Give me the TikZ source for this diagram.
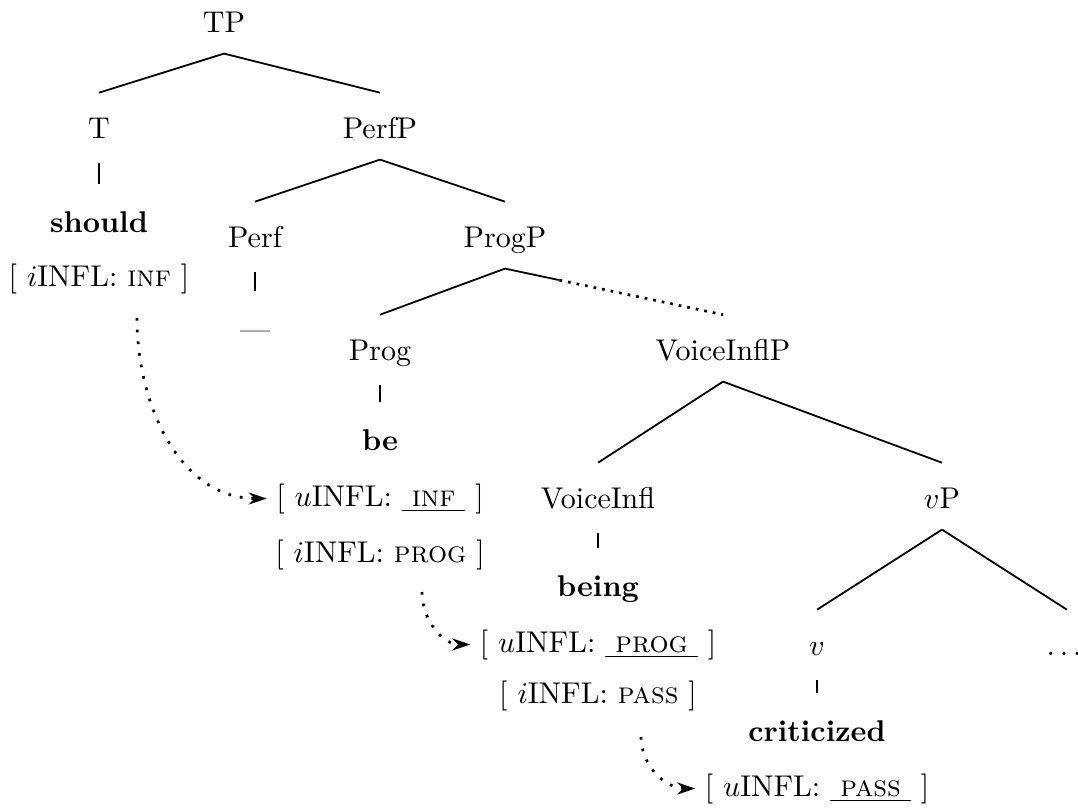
\documentclass[tikz,border=0pt]{standalone}
\usepackage{amsmath}
\usepackage{tikz}
\usetikzlibrary{arrows.meta}

\newcommand{\ifeat}[1]{[~$i$INFL:~\textsc{#1}~]}
\newcommand{\ufeat}[1]{[~$u$INFL:~\underline{~\textsc{#1}~}~]}

\begin{document}
\begin{tikzpicture}[x=0.3333pt, y=-0.3333pt]
	\tikzstyle{cat} = [anchor=base, inner xsep=2pt, inner ysep=5pt, text height=9.9pt, text depth=2pt];
	\tikzstyle{word} = [cat, font={\bfseries}];
	\tikzstyle{feat} = [anchor=base, inner sep=3pt];
	\tikzstyle{branch} = [semithick];
	\tikzstyle{check} = [->, >={Stealth[length=6pt, width=4pt]}, line width=0.9pt, dash pattern=on 0.9pt off 3pt, out=-90, in=180];

	\useasboundingbox (0,0) rectangle (1078,809);

	\node[cat] (TP) at (224,32) {TP};
	\node[cat] (T) at (99,138) {T};
	\node[cat] (PerfP) at (380,138) {PerfP};
	\node[word] (should) at (99,232) {should};
	\node[feat] (f1) at (99,286) {\ifeat{inf}};
	\node[cat] (Perf) at (255,247) {Perf};
	\node[cat] (ProgP) at (505,247) {ProgP};
	\node[cat] (gap) at (255,339) {---};
	\node[cat] (Prog) at (380,360) {Prog};
	\node[cat] (VoiceInflP) at (723,360) {VoiceInflP};
	\node[word] (be) at (380,450) {be};
	\node[feat] (u1) at (380,506) {\ufeat{inf}};
	\node[feat] (f2) at (380,562) {\ifeat{prog}};
	\node[cat] (VoiceInfl) at (598,508) {VoiceInfl};
	\node[cat] (vP) at (942,508) {$v$P};
	\node[word] (being) at (598,596) {being};
	\node[feat] (u2) at (598,652) {\ufeat{prog}};
	\node[feat] (f3) at (598,703) {\ifeat{pass}};
	\node[cat] (v) at (817,655) {$v$};
	\node[cat] (rest) at (1064,655) {$\ldots$};
	\node[word] (crit) at (817,741) {criticized};
	\node[feat] (u3) at (817,796) {\ufeat{pass}};

	% branches
	\foreach \p/\c in {TP/T, TP/PerfP, PerfP/Perf, PerfP/ProgP, ProgP/Prog, VoiceInflP/VoiceInfl, VoiceInflP/vP, vP/v}
		\draw[branch] (\p.south) -- (\c.north);
	\draw[branch] (vP.south) -- ([xshift=1pt]rest.north);

	\foreach \p/\c in {T/should, Perf/gap, Prog/be, VoiceInfl/being, v/crit}
		\draw[branch, shorten <=1pt, shorten >=1pt] (\p.south) -- (\c.north);

	\path (ProgP.south) -- (VoiceInflP.north) coordinate[pos=0.25] (cut);
	\draw[branch] (ProgP.south) -- (cut);
	\draw[line width=0.9pt, dotted] (cut) -- (VoiceInflP.north);

	% agreement
	\draw[check] ([shift={(38,32)}]f1.base) to (u1.west);
	\draw[check] ([shift={(42,30)}]f2.base) to (u2.west);
	\draw[check] ([shift={(43,34)}]f3.base) to (u3.west);

\end{tikzpicture}
\end{document}
